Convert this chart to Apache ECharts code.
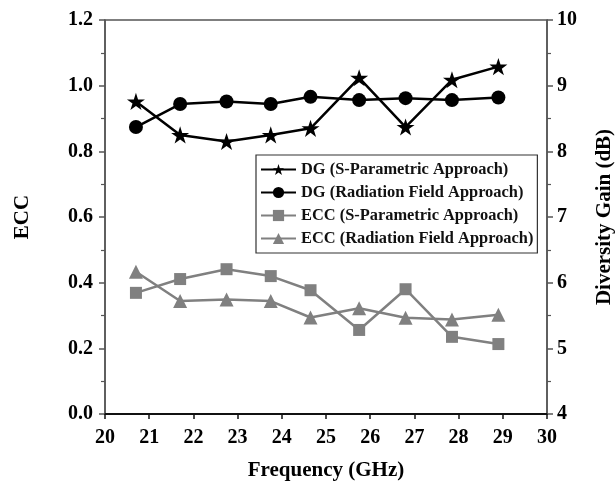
<!DOCTYPE html>
<html>
<head>
<meta charset="utf-8">
<script src="https://cdn.jsdelivr.net/npm/echarts@6/dist/echarts.min.js"></script>
<style>
  html, body { margin: 0; padding: 0; background: #fff; }
  #chart { width: 616px; height: 489px; }
</style>
</head>
<body>
<div id="chart"></div>
<script>
// Frequency sample points (GHz)
const freq = [20.7, 21.7, 22.75, 23.75, 24.65, 25.75, 26.8, 27.85, 28.9];
// Diversity gain (dB), right axis
const dgSParam = [8.76, 8.25, 8.15, 8.25, 8.35, 9.12, 8.37, 9.09, 9.29];
const dgRadiation = [8.37, 8.72, 8.76, 8.72, 8.83, 8.78, 8.81, 8.78, 8.82];
// Envelope correlation coefficient, left axis
const eccSParam = [0.369, 0.411, 0.441, 0.420, 0.377, 0.256, 0.380, 0.235, 0.213];
const eccRadiation = [0.433, 0.344, 0.349, 0.344, 0.294, 0.322, 0.293, 0.288, 0.302];

const seriesNames = [
  'DG (S-Parametric Approach)',
  'DG (Radiation Field Approach)',
  'ECC (S-Parametric Approach)',
  'ECC (Radiation Field Approach)'
];

const FONT = '"Liberation Serif", "DejaVu Serif", serif';
const BLACK = '#000000';
const GREY = '#808080';

const pair = (xs, ys) => xs.map((x, i) => [x, ys[i]]);

const chart = echarts.init(document.getElementById('chart'), null, { renderer: 'canvas' });

const tickLabel = { color: '#000', fontFamily: FONT, fontWeight: 'bold', fontSize: 20 };
const axisName = { color: '#000', fontFamily: FONT, fontWeight: 'bold', fontSize: 21 };

chart.setOption({
  animation: false,
  backgroundColor: '#fff',
  grid: {
    left: 105, right: 69, top: 20, bottom: 75,
    outerBoundsMode: 'none',
    containLabel: false,
    show: true, borderColor: '#555', borderWidth: 1.5, backgroundColor: 'transparent'
  },
  legend: {
    orient: 'vertical',
    left: 256, top: 155,
    padding: [6, 4, 6, 4],
    itemGap: 6,
    itemWidth: 35, itemHeight: 14,
    borderColor: '#333', borderWidth: 1.2,
    textStyle: { color: '#111', fontFamily: FONT, fontWeight: 'bold', fontSize: 16.4, lineHeight: 17 },
    data: seriesNames
  },
  xAxis: {
    type: 'value', min: 20, max: 30, interval: 1,
    name: 'Frequency (GHz)', nameLocation: 'middle', nameGap: 46,
    nameTextStyle: axisName,
    axisLine: { lineStyle: { color: '#111', width: 2 } },
    axisTick: { show: true, inside: false, length: 5, lineStyle: { color: '#111', width: 1.5 } },
    minorTick: { show: false },
    axisLabel: Object.assign({ margin: 14 }, tickLabel),
    splitLine: { show: false }
  },
  yAxis: [
    {
      type: 'value', min: 0, max: 1.2, interval: 0.2, position: 'left',
      name: 'ECC', nameLocation: 'middle', nameGap: 72, nameRotate: 90,
      nameTextStyle: axisName,
      axisLine: { show: true, lineStyle: { color: '#555', width: 1.5 } },
      axisTick: { show: true, length: 6, lineStyle: { color: '#555', width: 1.5 } },
      minorTick: { show: true, splitNumber: 2, length: 4, lineStyle: { color: '#555', width: 1.2 } },
      axisLabel: Object.assign({ margin: 12, formatter: v => v.toFixed(1) }, tickLabel),
      splitLine: { show: false }
    },
    {
      type: 'value', min: 4, max: 10, interval: 1, position: 'right',
      name: 'Diversity Gain (dB)', nameLocation: 'middle', nameGap: 47, nameRotate: 90,
      nameTextStyle: axisName,
      axisLine: { show: true, lineStyle: { color: '#555', width: 1.5 } },
      axisTick: { show: true, length: 6, lineStyle: { color: '#555', width: 1.5 } },
      minorTick: { show: true, splitNumber: 2, length: 4, lineStyle: { color: '#555', width: 1.2 } },
      axisLabel: Object.assign({ margin: 10 }, tickLabel),
      splitLine: { show: false }
    }
  ],
  series: [
    {
      name: seriesNames[0], type: 'line', yAxisIndex: 1,
      data: pair(freq, dgSParam),
      symbol: 'path://M50,0 L61.2,34.5 L97.6,34.5 L68.2,55.9 L79.4,90.5 L50,69.1 L20.6,90.5 L31.8,55.9 L2.4,34.5 L38.8,34.5 Z',
      symbolSize: 18, symbolKeepAspect: true,
      lineStyle: { color: BLACK, width: 2.5 },
      itemStyle: { color: BLACK }
    },
    {
      name: seriesNames[1], type: 'line', yAxisIndex: 1,
      data: pair(freq, dgRadiation),
      symbol: 'circle', symbolSize: 14,
      lineStyle: { color: BLACK, width: 2.5 },
      itemStyle: { color: BLACK }
    },
    {
      name: seriesNames[2], type: 'line', yAxisIndex: 0,
      data: pair(freq, eccSParam),
      symbol: 'rect', symbolSize: 12,
      lineStyle: { color: GREY, width: 2.5 },
      itemStyle: { color: GREY }
    },
    {
      name: seriesNames[3], type: 'line', yAxisIndex: 0,
      data: pair(freq, eccRadiation),
      symbol: 'triangle', symbolSize: 14,
      lineStyle: { color: GREY, width: 2.5 },
      itemStyle: { color: GREY }
    }
  ]
});
</script>
</body>
</html>
